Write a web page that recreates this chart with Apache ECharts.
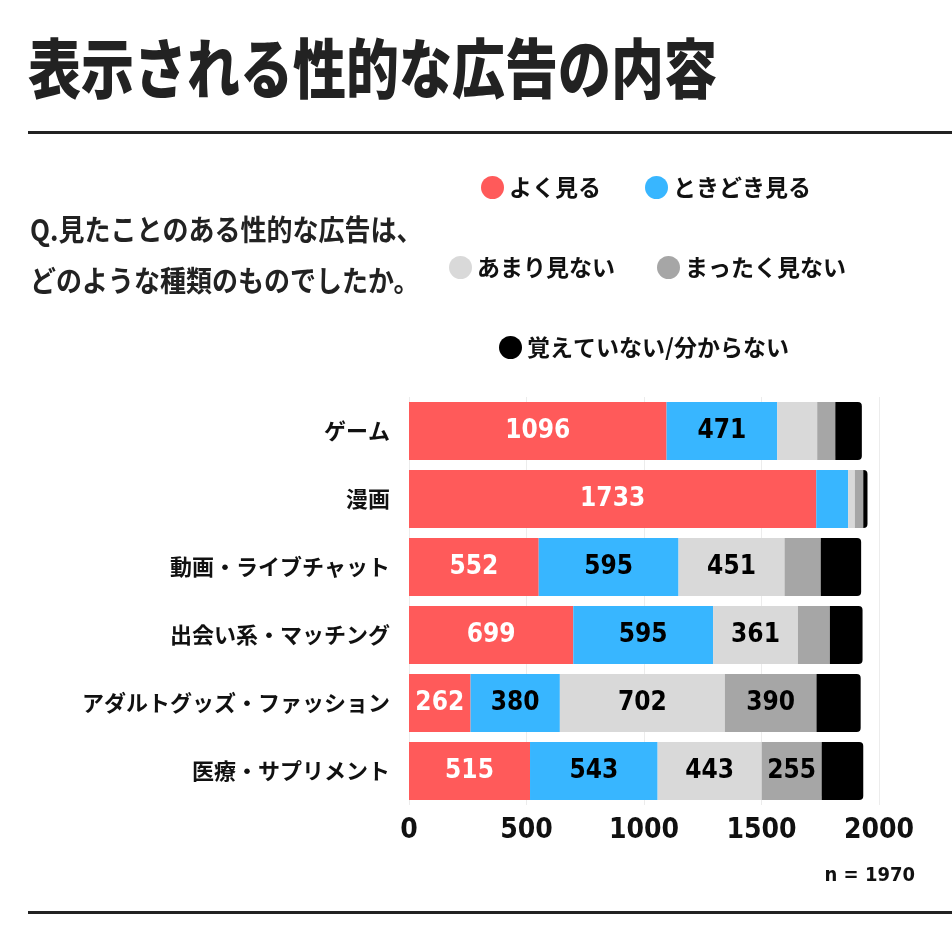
<!DOCTYPE html>
<html>
<head>
<meta charset="utf-8">
<script src="https://cdn.jsdelivr.net/npm/echarts@6/dist/echarts.min.js"></script>
<style>
  html, body { margin: 0; padding: 0; background: #fff; }
  #chart { width: 952px; height: 952px; }
</style>
</head>
<body>
<div id="chart"></div>
<script>
var categories = ['ゲーム', '漫画', '動画・ライブチャット', '出会い系・マッチング', 'アダルトグッズ・ファッション', '医療・サプリメント'];
var seriesNames = ['よく見る', 'ときどき見る', 'あまり見ない', 'まったく見ない', '覚えていない/分からない'];
var yokuMiru = [1096, 1733, 552, 699, 262, 515];
var tokidoki = [471, 136, 595, 595, 380, 543];
var amari = [170, 28, 451, 361, 702, 443];
var mattaku = [77, 36, 154, 136, 390, 255];
var oboeteinai = [113, 18, 172, 139, 188, 177];
var xTicks = [0, 500, 1000, 1500, 2000];

var jp = "'Noto Sans CJK JP', sans-serif";
var num = "'DejaVu Sans', sans-serif";
var colors = ['#ff5a5a', '#38b6ff', '#d9d9d9', '#a6a6a6', '#000000'];
var values = [yokuMiru, tokidoki, amari, mattaku, oboeteinai];

function legendRow(names, left, top, gap) {
  return {
    data: names,
    left: left,
    top: top,
    orient: 'horizontal',
    icon: 'circle',
    itemWidth: 23,
    itemHeight: 23,
    itemGap: gap,
    selectedMode: false,
    textStyle: { fontFamily: jp, fontSize: 23, fontWeight: 'bold', color: '#111' }
  };
}

var series = seriesNames.map(function (name, i) {
  return {
    name: name,
    type: 'bar',
    stack: 'total',
    barWidth: 58,
    data: values[i],
    itemStyle: {
      color: colors[i],
      borderRadius: i === 4 ? [0, 4, 4, 0] : 0
    },
    label: {
      show: true,
      position: 'inside',
      fontFamily: num,
      fontStyle: 'condensed',
      fontSize: 26,
      fontWeight: 'bold',
      color: i === 0 ? '#fff' : '#000',
      formatter: function (p) { return p.value >= 250 ? p.value : ''; }
    }
  };
});

var option = {
  animation: false,
  color: colors,
  legend: [
    legendRow(['よく見る', 'ときどき見る'], 476, 171, 44),
    legendRow(['あまり見ない', 'まったく見ない'], 444, 251, 42),
    legendRow(['覚えていない/分からない'], 494, 331, 10)
  ],
  grid: { left: 409, right: 73, top: 397, height: 408 },
  xAxis: {
    type: 'value',
    min: 0,
    max: 2000,
    interval: 500,
    axisLine: { show: false },
    axisTick: { show: false },
    splitLine: { lineStyle: { color: '#ececec', width: 1 } },
    axisLabel: {
      margin: 12,
      fontFamily: num,
      fontStyle: 'condensed',
      fontSize: 28,
      fontWeight: 'bold',
      color: '#111',
      formatter: function (v) { return xTicks.indexOf(v) >= 0 ? v : ''; }
    }
  },
  yAxis: {
    type: 'category',
    data: categories,
    inverse: true,
    axisLine: { show: false },
    axisTick: { show: false },
    axisLabel: {
      margin: 19,
      fontFamily: jp,
      fontSize: 22,
      fontWeight: 'bold',
      color: '#111'
    }
  },
  graphic: [
    {
      type: 'text', x: 28, y: 36, scaleY: 1.22,
      style: { text: '表示される性的な広告の内容', font: '900 53px ' + jp, fill: '#222' }
    },
    {
      type: 'rect', shape: { x: 28, y: 131, width: 924, height: 3 },
      style: { fill: '#222' }
    },
    {
      type: 'text', x: 30, y: 205, scaleY: 1.12,
      style: {
        text: 'Q.見たことのある性的な広告は、\nどのような種類のものでしたか。',
        font: 'bold 26px ' + jp, lineHeight: 45, fill: '#222'
      }
    },
    {
      type: 'text', right: 37, top: 866,
      style: { text: 'n = 1970', font: 'bold condensed 20px ' + num, fill: '#111' }
    },
    {
      type: 'rect', shape: { x: 28, y: 911, width: 924, height: 3 },
      style: { fill: '#222' }
    }
  ],
  series: series
};

var chart = echarts.init(document.getElementById('chart'));
chart.setOption(option);
</script>
</body>
</html>
